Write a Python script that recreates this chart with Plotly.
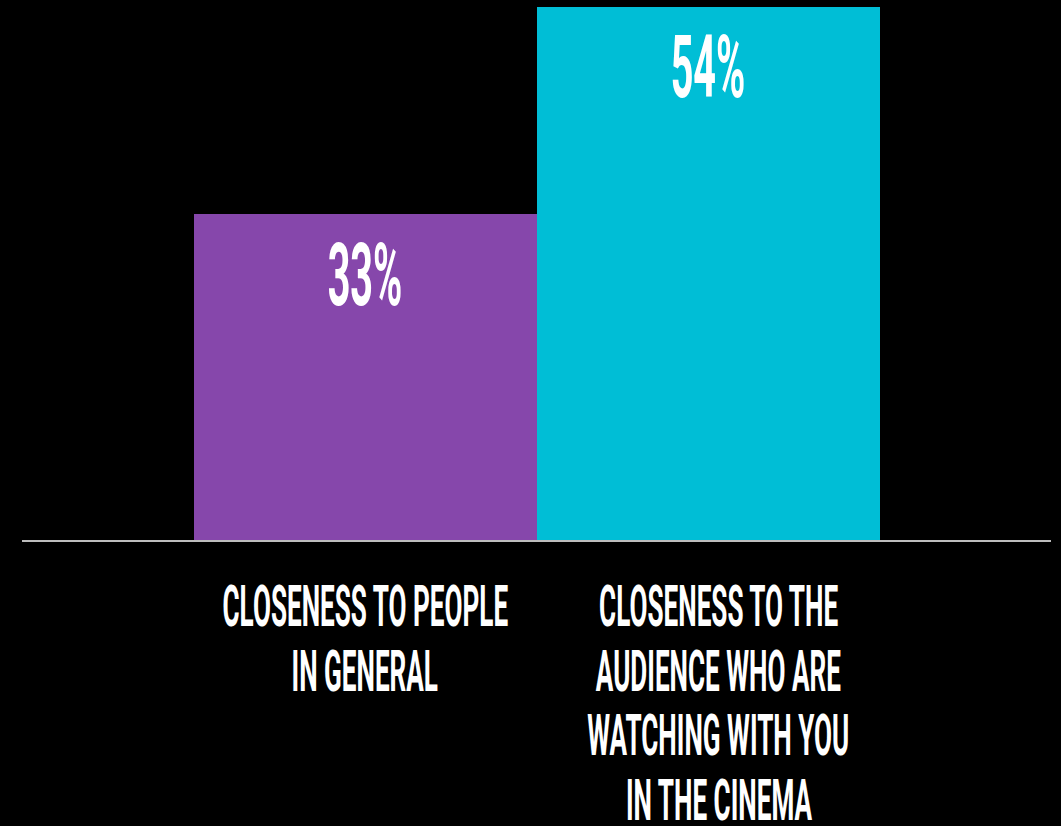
import plotly.graph_objects as go

# Survey results: share of respondents feeling each kind of closeness
categories = ["CLOSENESS TO PEOPLE IN GENERAL",
              "CLOSENESS TO THE AUDIENCE WHO ARE WATCHING WITH YOU IN THE CINEMA"]
label_lines = [["CLOSENESS TO PEOPLE", "IN GENERAL"],
               ["CLOSENESS TO THE", "AUDIENCE WHO ARE", "WATCHING WITH YOU", "IN THE CINEMA"]]
values = [33, 54]
colors = ["#8647AB", "#00BED6"]

FONT = "Roboto"
LINE_GAP = 64.5
FIRST_LINE = 66

fig = go.Figure()
fig.add_trace(go.Bar(
    x=categories, y=values,
    marker=dict(color=colors, line=dict(width=0)),
    width=1.0, hoverinfo="skip",
))

annotations = []
# percentage labels inside the top of each bar
for cat, v in zip(categories, values):
    annotations.append(dict(
        x=cat, y=v, xref="x", yref="y", text=f"{v}%", showarrow=False,
        xanchor="center", yanchor="middle", yshift=-60,
        font=dict(family=FONT, size=88, color="white", weight="bold"),
    ))
# multi-line category labels under the baseline
for i, (cat, lines) in enumerate(zip(categories, label_lines)):
    for j, line in enumerate(lines):
        annotations.append(dict(
            x=cat, y=0, xref="x", yref="y", text=line, showarrow=False,
            xanchor="center", yanchor="middle",
            yshift=-(FIRST_LINE + j * LINE_GAP), xshift=10 * i,
            font=dict(family=FONT, size=58, color="white", weight="bold"),
        ))

fig.update_layout(
    width=1061, height=826,
    paper_bgcolor="black", plot_bgcolor="black",
    margin=dict(l=22, r=10, t=0, b=286),
    bargap=0, showlegend=False,
    annotations=annotations,
    xaxis=dict(range=[-1, 2], showticklabels=False, showgrid=False,
               zeroline=False, showline=True, linecolor="#BDBDBD",
               linewidth=2, ticks=""),
    yaxis=dict(range=[0, 54.7], visible=False, showgrid=False, zeroline=False),
)

# condensed display lettering
post = """
var s = document.createElement('style');
s.textContent = '.annotation-text{transform-box:fill-box;transform-origin:center;transform:scaleX(0.45);}';
document.head.appendChild(s);
"""
fig.write_html("out.html", post_script=post, config={"displayModeBar": False})
